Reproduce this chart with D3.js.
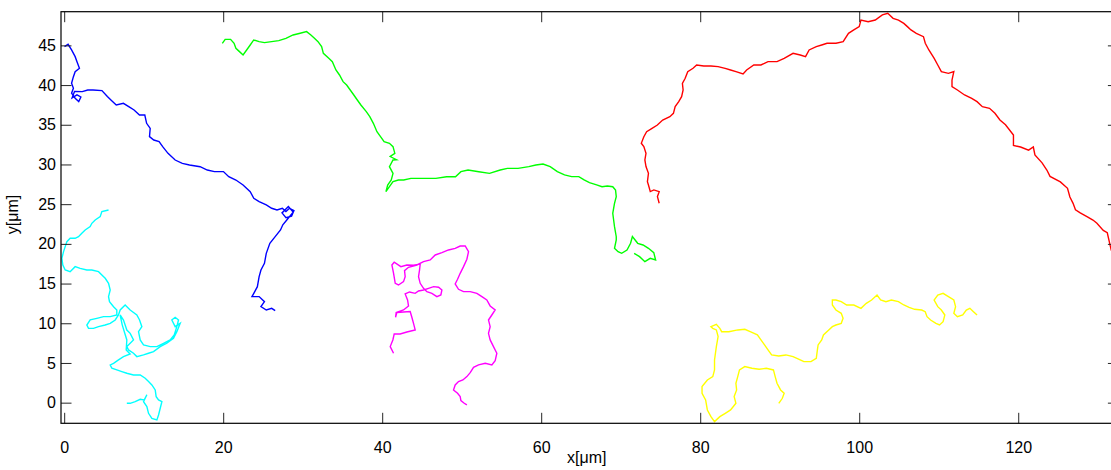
<!DOCTYPE html>
<html>
<head>
<meta charset="utf-8">
<script src="https://cdn.jsdelivr.net/npm/d3@7"></script>
<style>
  html, body { margin: 0; padding: 0; background: #fff; }
  svg { display: block; }
  text { font-family: Arial, "Liberation Sans", Helvetica, sans-serif; fill: #000; }
</style>
</head>
<body>
<svg id="chart" width="1111" height="470"></svg>
<script>
// ---- Data (x[µm], y[µm]) ----
const xTicks = [0, 20, 40, 60, 80, 100, 120];
const yTicks = [0, 5, 10, 15, 20, 25, 30, 35, 40, 45];
const xLabel = "x[\u03bcm]";
const yLabel = "y[\u03bcm]";
const trackColors = ["#0000ff", "#00ff00", "#ff0000", "#00ffff", "#ff00ff", "#ffff00"];

const blueTrack = [
  [0.04,44.85],[0.49,45.13],[0.93,44.42],[1.38,43.58],[1.61,42.95],[1.92,42.11],[1.38,41.69],[1.16,41.06],
  [0.93,40.22],[1.16,39.59],[0.93,38.97],[1.38,38.34],[1.83,37.92],[2.1,38.5],[1.61,38.76],[1.0,38.4],[1.3,39.2],
  [2.28,39.17],[2.96,39.38],[3.63,39.38],[4.75,39.3],[5.43,38.55],[5.88,38.12],[6.55,37.5],[7.45,37.7],
  [8.12,37.28],[8.79,36.86],[9.47,36.23],[10.14,36.23],[10.37,35.18],[10.82,34.55],[10.73,33.5],[11.27,33.08],
  [11.94,32.87],[12.39,32.24],[13.06,31.4],[13.96,30.56],[14.86,30.14],[15.76,29.93],[17.1,29.72],[18.0,29.3],
  [18.9,29.1],[20.03,29.1],[20.7,28.46],[21.6,28.04],[22.5,27.41],[23.4,26.57],[23.85,25.73],[24.52,25.31],
  [25.42,24.9],[26.1,24.48],[26.77,24.27],[27.44,24.48],[27.89,24.06],[28.34,24.48],[28.9,24.2],[28.6,23.5],
  [27.9,23.3],[27.4,23.9],[28.2,24.7],[28.8,24.0],[28.0,23.0],[27.5,22.4],
  [27.21,21.75],[26.54,20.91],[25.87,20.07],[25.42,18.81],[25.19,17.55],[24.75,16.71],[24.52,15.87],[24.3,14.61],
  [23.85,13.77],[23.62,13.36],[24.52,13.36],[25.19,12.72],[24.75,12.09],[25.42,11.67],[26.1,11.88],[26.54,11.59]
];

const greenTrack = [
  [19.89,45.26],[20.25,45.76],[20.93,45.76],[21.37,45.26],[21.6,44.63],[22.05,44.21],[22.5,43.79],[22.95,44.42],
  [23.4,45.05],[23.84,45.68],[24.52,45.47],[25.19,45.35],[26.09,45.47],[26.99,45.6],[27.89,45.89],[28.79,46.31],
  [29.68,46.52],[30.49,46.73],[31.03,46.31],[31.48,45.89],[31.93,45.47],[32.38,44.84],[32.6,44.0],[33.28,43.37],
  [33.73,42.95],[34.18,41.9],[34.63,41.27],[35.08,40.43],[35.53,40.01],[35.98,39.38],[36.43,38.75],[36.87,38.12],
  [37.32,37.49],[38.0,36.65],[38.44,36.02],[38.89,35.18],[39.34,34.13],[39.79,33.5],[40.24,32.87],[40.91,32.66],
  [41.36,32.24],[41.59,31.4],[41.0,31.0],[41.8,30.6],[41.36,30.56],[40.91,29.72],[41.36,28.88],[41.14,28.04],
  [40.69,27.41],[40.47,26.57],[40.91,27.2],[41.36,27.83],[42.04,28.04],[42.71,28.04],[43.61,28.25],[44.96,28.25],
  [45.86,28.25],[46.75,28.25],[48.1,28.46],[49.22,28.46],[49.9,29.09],[50.8,29.3],[52.15,29.09],[53.5,28.88],
  [54.84,29.3],[55.74,29.51],[57.09,29.51],[58.44,29.72],[59.33,29.93],[60.23,30.06],[61.13,29.72],[62.03,29.1],
  [62.93,28.68],[63.83,28.47],[64.73,28.47],[65.4,28.05],[66.07,27.71],[66.97,27.42],[67.65,27.2],[68.32,27.29],
  [69.0,27.2],[69.35,26.78],[69.44,25.94],[69.22,25.1],[69.0,23.84],[69.22,22.16],[69.44,20.9],[69.44,20.49],
  [69.22,19.44],[69.67,19.02],[70.12,18.81],[70.79,19.23],[71.24,20.07],[71.47,20.91],[72.14,20.07],[72.81,19.86],
  [73.49,19.44],[74.16,18.89],[74.39,17.97],[73.71,18.18],[73.04,17.76],[72.37,18.39],[71.69,18.81]
];

const redTrack = [
  [74.84,25.11],[74.62,25.95],[74.84,26.58],[74.17,26.79],[73.72,26.58],[73.49,27.42],[73.36,27.84],[73.49,28.89],
  [73.18,29.73],[73.04,30.57],[73.18,31.41],[72.91,32.25],[72.59,32.67],[72.91,33.5],[73.26,34.13],[73.94,34.55],
  [74.61,34.97],[75.28,35.6],[76.18,36.02],[76.63,36.44],[76.85,37.28],[77.3,37.91],[77.66,38.54],[77.85,39.38],
  [77.76,40.22],[78.11,40.85],[78.43,41.69],[79.1,42.11],[79.55,42.53],[80.45,42.4],[81.35,42.4],[82.25,42.32],
  [83.14,42.11],[83.82,41.9],[84.5,41.69],[85.39,41.39],[85.84,41.9],[86.74,42.53],[87.64,42.53],[88.53,42.95],
  [89.66,42.95],[90.56,43.37],[91.68,44.0],[92.58,43.79],[93.25,43.58],[93.7,44.42],[94.6,44.84],[95.28,45.05],
  [95.95,45.26],[97.08,45.26],[97.98,45.47],[98.65,46.52],[99.32,46.94],[100.0,47.36],[100.22,48.19],[101.12,47.98],
  [102.02,48.19],[102.91,48.83],[103.59,49.04],[104.26,48.4],[104.94,48.19],[105.61,47.77],[106.06,47.36],
  [106.51,46.94],[107.18,46.52],[108.08,46.1],[108.31,45.26],[108.76,44.42],[109.43,43.37],[109.88,42.53],
  [110.33,41.69],[111.22,41.48],[111.9,41.69],[111.67,40.64],[111.67,39.8],[112.35,39.38],[113.25,38.75],
  [114.15,38.33],[114.82,37.91],[115.49,37.28],[116.39,37.07],[117.07,36.44],[117.7,35.6],[118.4,35.0],
  [119.4,33.7],[119.4,32.4],[120.3,32.2],[121.3,31.8],[121.9,32.2],[122.1,31.2],[123.0,30.2],[123.6,29.3],
  [124.0,28.5],[125.3,27.8],[126.2,27.0],[126.5,25.9],[126.9,25.1],[127.2,24.3],[127.8,23.9],[128.7,23.4],
  [129.4,23.0],[129.9,22.6],[130.7,21.7],[131.2,21.4],[131.7,19.2],[132.2,18.8]
];

const cyanTrack = [
  [5.58,24.27],[4.74,24.06],[4.53,23.43],[3.9,23.01],[3.48,22.59],[3.27,22.17],[2.64,21.75],[2.22,21.33],
  [1.8,20.91],[1.38,20.7],[0.75,20.7],[0.34,20.28],[0.13,19.65],[-0.08,19.02],[-0.29,18.18],[-0.17,17.34],
  [0.13,16.71],[0.75,16.5],[1.38,17.13],[2.01,16.92],[2.85,16.71],[3.48,16.71],[4.32,16.5],[4.74,16.08],
  [5.16,15.66],[5.58,15.03],[5.79,14.19],[5.58,13.35],[5.7,12.72],[6.21,12.09],[6.62,11.67],
  [6.62,11.04],[5.79,10.83],[4.95,10.83],[4.11,10.62],[3.27,10.42],[2.85,9.78],[3.06,9.36],[3.69,9.36],
  [4.32,9.57],[5.16,9.78],[5.79,9.99],[6.42,10.41],[6.83,11.04],
  [7.04,11.67],[7.67,12.3],[8.3,11.67],[9.14,11.04],[9.48,10.41],[9.77,9.57],[9.35,8.94],[9.56,7.9],[9.98,7.27],
  [10.82,7.06],[11.66,7.06],[12.49,7.48],[13.33,7.9],[13.84,8.53],[14.17,9.57],[14.38,10.41],[13.96,10.75],
  [13.54,10.41],[13.96,9.57],[14.59,9.99],[14.17,8.94],[13.75,8.11],[12.91,7.48],[12.08,7.06],[11.24,6.43],
  [10.61,6.22],[9.98,6.01],[9.14,5.8],[8.72,6.22],[8.09,6.64],[7.88,7.06],[8.3,7.48],[8.72,7.9],[8.3,8.73],
  [7.88,9.15],[7.67,9.78],[7.46,10.41],[7.04,11.04],[7.3,9.8],[7.88,7.9],[7.8,6.64],[8.3,6.13],[7.46,5.8],
  [6.83,5.38],[6.21,4.96],[5.79,4.75],[6.0,4.33],[6.62,4.12],[7.25,3.91],[7.88,3.7],[8.72,3.49],[9.56,3.49],
  [10.19,3.07],[10.61,2.65],[11.03,2.23],[11.45,1.6],[11.57,0.76],[11.87,0.34],[12.29,0.13],[12.08,-0.71],
  [11.87,-1.55],[11.66,-2.18],[11.03,-1.97],[10.61,-1.34],[10.4,-0.5],[9.98,0.13],[10.4,1.0],[10.06,0.34],
  [9.56,0.42],[8.93,0.13],[8.3,-0.08],[7.88,-0.08]
];

const magentaTrack = [
  [41.43,6.22],[41.01,7.06],[41.34,7.9],[41.51,8.65],[42.26,8.65],[43.1,8.9],[44.15,9.16],[43.94,9.99],
  [43.73,10.75],[43.52,11.47],[42.68,11.42],[41.84,11.34],[41.68,10.75],[41.76,11.34],[42.68,11.67],[43.31,12.18],
  [43.19,12.93],[42.89,13.69],[43.44,13.94],[44.15,13.77],[44.57,14.07],[45.2,14.19],[45.83,14.4],[46.46,14.61],
  [47.09,14.53],[47.51,14.19],[47.38,13.56],[46.88,13.35],[46.25,13.77],[45.62,13.98],[45.2,14.4],[44.78,15.03],
  [44.57,15.87],[44.7,16.71],[44.78,17.46],[43.94,17.3],[43.1,17.34],[42.35,17.13],[41.51,17.68],[41.22,17.34],
  [41.43,16.29],[41.64,15.03],[42.05,14.82],[42.68,15.24],[42.89,15.87],[42.81,16.63],[43.31,17.05],[44.36,17.34],
  [45.2,17.76],[46.04,17.97],[46.67,18.6],[47.51,18.89],[48.34,19.23],[49.18,19.44],[49.81,19.73],[50.44,19.73],
  [50.86,19.02],[50.65,18.06],[50.23,17.13],[49.81,16.29],[49.48,15.54],[49.18,14.95],[49.6,14.28],[50.23,13.98],
  [51.07,13.98],[51.91,13.77],[52.54,13.35],[53.16,12.93],[53.58,12.18],[54.21,11.67],[53.79,11.04],[53.37,10.41],
  [53.58,9.57],[53.37,8.73],[53.58,7.9],[54.0,7.06],[54.42,6.22],[54.21,5.29],[53.79,4.75],[52.96,4.96],
  [52.12,4.75],[51.49,4.45],[51.07,3.78],[50.65,3.28],[50.15,2.86],[49.6,2.65],[49.18,2.23],[48.97,1.6],
  [49.48,1.18],[49.81,0.76],[49.9,0.26],[50.32,-0.08],[50.65,-0.29]
];

const yellowTrack = [
  [89.88,-0.08],[90.33,0.55],[90.56,1.18],[90.11,1.6],[89.66,2.44],[89.43,3.28],[89.21,4.12],[88.31,4.33],
  [87.41,4.2],[86.51,4.33],[85.61,4.54],[84.94,4.12],[84.72,3.28],[84.49,2.44],[84.58,1.6],[84.27,0.76],
  [84.49,-0.08],[83.82,-0.92],[83.15,-1.34],[82.47,-1.76],[81.8,-2.39],[81.35,-1.76],[80.9,-0.92],[80.68,0.34],
  [80.23,1.18],[80.23,2.02],[80.9,2.86],[81.58,3.28],[81.8,4.12],[81.8,5.38],[82.03,7.06],[82.25,8.32],
  [82.03,9.16],[81.58,9.36],[81.35,9.57],[82.03,9.87],[82.47,9.36],[82.7,8.94],[83.6,8.94],[84.72,9.16],
  [85.61,9.24],[86.29,8.94],[87.19,8.53],[87.64,7.9],[88.09,7.27],[88.53,6.64],[88.98,6.01],[89.88,5.88],
  [90.78,6.01],[91.68,5.8],[92.58,5.38],[93.03,5.17],[93.93,5.17],[94.6,5.59],[94.74,6.64],[94.83,7.27],
  [95.28,7.9],[95.5,8.53],[96.17,9.16],[96.62,9.57],[97.07,9.78],[97.74,9.99],[97.97,10.62],[97.74,11.25],
  [97.07,11.67],[96.62,12.3],[96.62,12.93],[97.07,12.93],[97.74,12.72],[98.42,12.3],[99.32,12.3],[100.22,11.88],
  [100.89,12.51],[101.56,12.93],[102.24,13.56],[102.69,12.93],[103.36,12.72],[104.04,12.93],[104.93,12.72],
  [105.61,12.3],[106.28,12.01],[106.96,11.76],[107.86,11.67],[108.3,11.46],[108.53,10.83],[108.98,10.41],
  [109.65,9.99],[110.1,9.78],[110.55,10.2],[110.77,11.04],[110.33,11.67],[109.88,12.09],[109.42,12.93],
  [109.88,13.56],[110.55,13.77],[111.22,13.35],[111.9,12.93],[112.12,12.09],[111.9,11.25],[112.35,10.83],
  [113.02,11.04],[113.47,11.67],[113.92,11.88],[114.37,11.46],[114.82,11.04]
];

const tracks = [blueTrack, greenTrack, redTrack, cyanTrack, magentaTrack, yellowTrack];

// ---- Layout ----
const svg = d3.select("#chart");
const mLeft = 61, mRight = 1118.4, mTop = 11.7, mBottom = 423.3;
const x = d3.scaleLinear().domain([-0.4, 132.6]).range([mLeft, mRight]);
const y = d3.scaleLinear().domain([-2.6, 49.24]).range([mBottom, mTop]);
const tickLen = 10.5;

svg.append("defs").append("clipPath").attr("id", "plotClip")
  .append("rect").attr("x", mLeft).attr("y", mTop).attr("width", mRight - mLeft).attr("height", mBottom - mTop);

const plot = svg.append("g").attr("clip-path", "url(#plotClip)");
const line = d3.line().x(d => x(d[0])).y(d => y(d[1]));
plot.selectAll("path.track").data(tracks).join("path")
  .attr("class", "track")
  .attr("d", line)
  .attr("fill", "none")
  .attr("stroke", (d, i) => trackColors[i])
  .attr("stroke-width", 1.4)
  .attr("stroke-linejoin", "miter");

// ---- Axes (MATLAB box style, ticks inward on all sides) ----
function styleAxis(g) {
  g.select(".domain").remove();
  g.selectAll(".tick line").attr("stroke", "#262626").attr("stroke-width", 1);
}
const fs = "16px";
svg.append("g").attr("transform", `translate(0,${mBottom})`)
  .call(d3.axisBottom(x).tickValues(xTicks).tickSize(-tickLen).tickPadding(tickLen + 8))
  .call(styleAxis)
  .call(g => g.selectAll("text").attr("font-size", fs).attr("font-family", "Arial, 'Liberation Sans', sans-serif").attr("fill", "#000"));
svg.append("g").attr("transform", `translate(0,${mTop})`)
  .call(d3.axisTop(x).tickValues(xTicks).tickSize(-tickLen).tickFormat(""))
  .call(styleAxis);
svg.append("g").attr("transform", `translate(${mLeft},0)`)
  .call(d3.axisLeft(y).tickValues(yTicks).tickSize(-tickLen).tickPadding(4))
  .call(styleAxis)
  .call(g => g.selectAll("text").attr("font-size", fs).attr("font-family", "Arial, 'Liberation Sans', sans-serif").attr("fill", "#000")
    .attr("x", -5));
svg.append("g").attr("transform", `translate(${mRight},0)`)
  .call(d3.axisRight(y).tickValues(yTicks).tickSize(-tickLen).tickFormat(""))
  .call(styleAxis);

// box
svg.append("rect").attr("x", mLeft).attr("y", mTop).attr("width", mRight - mLeft).attr("height", mBottom - mTop)
  .attr("fill", "none").attr("stroke", "#000").attr("stroke-width", 1.2);

// labels
svg.append("text").attr("x", (mLeft + mRight) / 2 - 3).attr("y", 463)
  .attr("text-anchor", "middle").attr("font-size", "16px").text(xLabel);
svg.append("text").attr("transform", `translate(18,${(mTop + mBottom) / 2 - 3}) rotate(-90)`)
  .attr("text-anchor", "middle").attr("font-size", "16px").text(yLabel);
</script>
</body>
</html>
